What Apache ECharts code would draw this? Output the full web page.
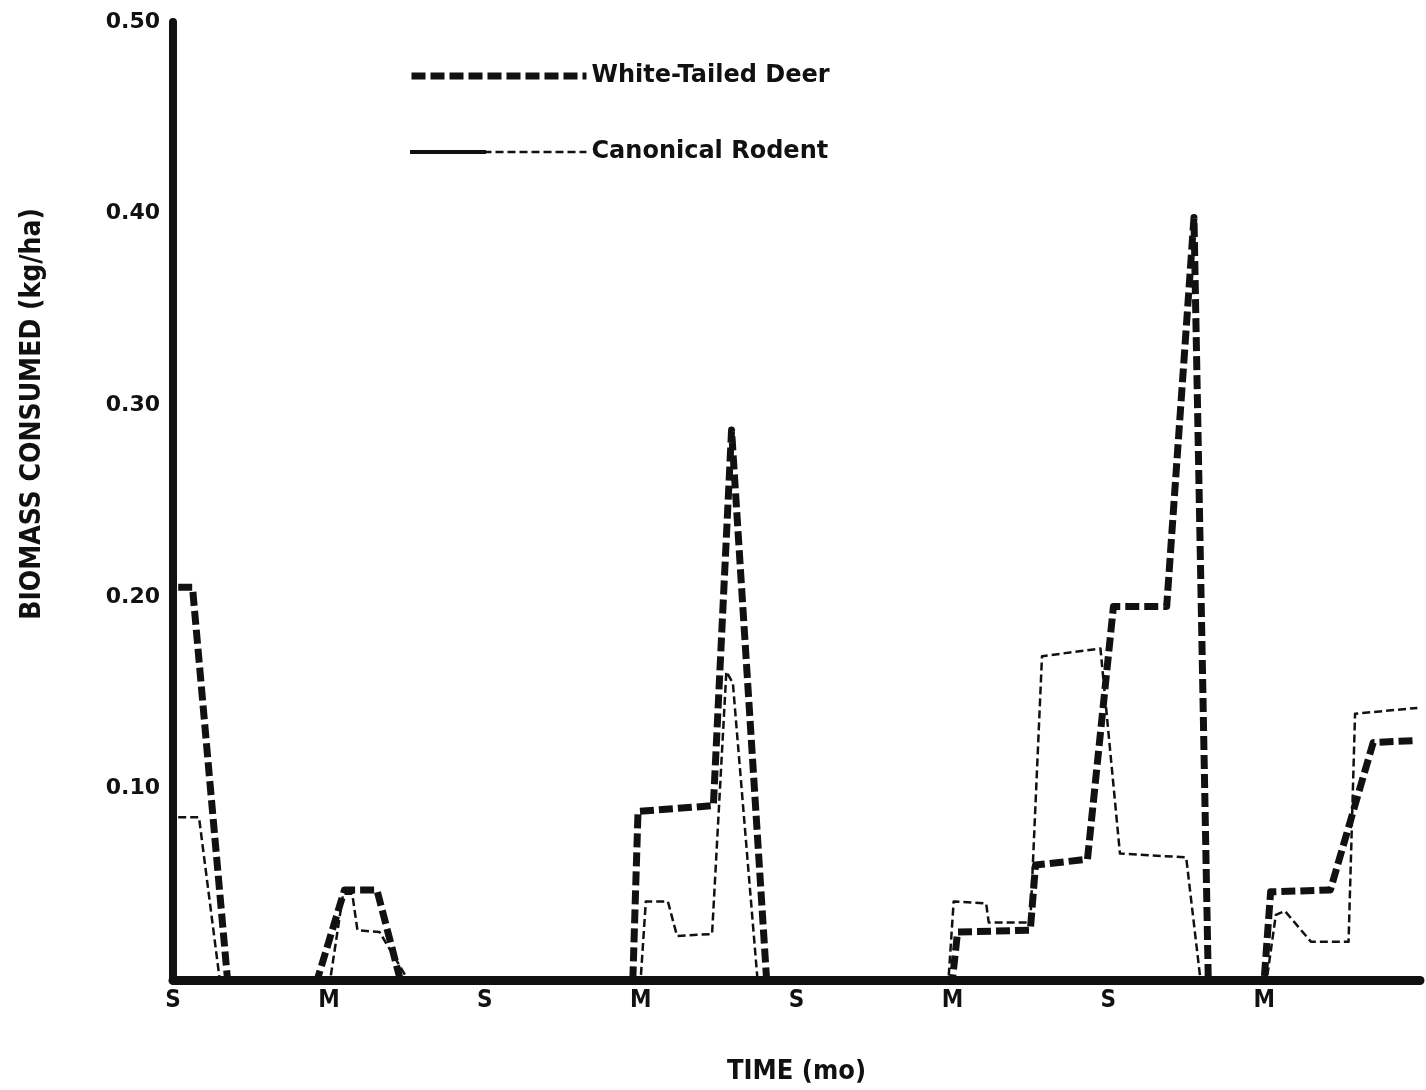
<!DOCTYPE html>
<html>
<head>
<meta charset="utf-8">
<script src="https://cdn.jsdelivr.net/npm/echarts@6/dist/echarts.min.js"></script>
<style>
html,body{margin:0;padding:0;background:#fff;}
#chart{width:1426px;height:1090px;}
</style>
</head>
<body>
<div id="chart"></div>
<script>
// ---- data (time in months from first September; biomass in kg/ha) ----
const xTickLabels = ['S', 'M', 'S', 'M', 'S', 'M', 'S', 'M', ''];
const yTickLabels = ['', '0.10', '0.20', '0.30', '0.40', '0.50'];

const deerMonths = [0.2, 0.75, 2.1, 5.55, 6.6, 7.85, 8.75, 17.7, 17.9, 20.8, 21.5, 22.85,
  30.0, 30.2, 33.0, 33.2, 35.2, 36.2, 38.25, 39.3, 39.85, 42.0, 42.25, 44.55, 46.2, 47.9];
const deerValues = [0.205, 0.205, 0, 0, 0.047, 0.047, 0, 0, 0.088, 0.091, 0.287, 0,
  0, 0.025, 0.026, 0.060, 0.063, 0.195, 0.195, 0.398, 0, 0, 0.046, 0.047, 0.124, 0.125];

const rodentMonths = [0.2, 1.0, 1.8, 6.05, 6.55, 6.9, 7.1, 7.95, 9.05, 18.0, 18.2, 19.05, 19.4,
  20.75, 21.3, 21.55, 22.5, 29.85, 30.05, 31.3, 31.4, 33.0, 33.45, 35.7, 36.45, 39.0, 39.55,
  42.1, 42.45, 42.8, 43.8, 45.25, 45.5, 47.9];
const rodentValues = [0.085, 0.085, 0, 0, 0.045, 0.045, 0.026, 0.025, 0, 0, 0.041, 0.041, 0.023,
  0.024, 0.161, 0.155, 0, 0, 0.041, 0.040, 0.030, 0.030, 0.169, 0.173, 0.066, 0.064, 0,
  0, 0.034, 0.036, 0.020, 0.020, 0.139, 0.142];

const seriesNames = ['White-Tailed Deer', 'Canonical Rodent'];

const deerData = deerMonths.map((m, i) => [m, deerValues[i]]);
const rodentData = rodentMonths.map((m, i) => [m, rodentValues[i]]);

const chart = echarts.init(document.getElementById('chart'), null, {renderer: 'canvas'});
const boldCond = '"DejaVu Sans Condensed", "Liberation Sans Narrow", "DejaVu Sans", sans-serif';
const boldWide = '"DejaVu Sans", Lato, sans-serif';

const deerLine = {color: '#111', width: 7, type: [14, 5], cap: 'butt', join: 'round'};
const rodentLine = {color: '#111', width: 2.5, type: [8, 4], join: 'round'};

chart.setOption({
  animation: false,
  backgroundColor: '#ffffff',
  color: ['#111', '#111'],
  grid: {left: 173, right: 6, top: 22, bottom: 110, containLabel: false},
  legend: {
    data: [
      {name: seriesNames[0], lineStyle: deerLine, itemStyle: {opacity: 0}},
      {name: seriesNames[1], lineStyle: rodentLine, itemStyle: {opacity: 0}}
    ],
    orient: 'vertical',
    left: 408,
    top: 63,
    padding: 0,
    itemWidth: 175,
    itemHeight: 14,
    itemGap: 50,
    textStyle: {fontFamily: boldWide, fontWeight: 'bold', fontSize: 24, color: '#111', lineHeight: 26}
  },
  xAxis: {
    type: 'value',
    min: 0,
    max: 48,
    interval: 6,
    name: 'TIME (mo)',
    nameLocation: 'middle',
    nameGap: 78,
    nameTextStyle: {fontFamily: boldCond, fontWeight: 'bold', fontSize: 27, color: '#111'},
    axisLine: {show: true, onZero: false, lineStyle: {color: '#111', width: 9}},
    axisTick: {show: false},
    splitLine: {show: false},
    axisLabel: {
      margin: 9,
      fontFamily: boldCond, fontWeight: 'bold', fontSize: 24, color: '#111',
      formatter: v => xTickLabels[Math.round(v / 6)] || ''
    }
  },
  yAxis: {
    type: 'value',
    min: 0,
    max: 0.5,
    interval: 0.1,
    axisLine: {show: true, lineStyle: {color: '#111', width: 8}},
    axisTick: {show: false},
    splitLine: {show: false},
    axisLabel: {
      margin: 13,
      fontFamily: boldWide, fontWeight: 'bold', fontSize: 22, color: '#111',
      formatter: v => yTickLabels[Math.round(v * 10)] || ''
    }
  },
  graphic: [{
    type: 'text',
    left: 19,
    top: 208,
    rotation: Math.PI / 2,
    originX: 0, originY: 0,
    style: {
      text: 'BIOMASS CONSUMED (kg/ha)',
      fontFamily: boldCond, fontWeight: 'bold', fontSize: 28, fill: '#111'
    }
  }, {
    type: 'line',
    shape: {x1: 410, y1: 152, x2: 486, y2: 152},
    style: {stroke: '#111', lineWidth: 4},
    z: 100
  }],
  series: [{
    name: seriesNames[0],
    type: 'line',
    data: deerData,
    symbol: 'none',
    showSymbol: false,
    z: 3,
    lineStyle: deerLine
  }, {
    name: seriesNames[1],
    type: 'line',
    data: rodentData,
    symbol: 'none',
    showSymbol: false,
    z: 4,
    lineStyle: rodentLine
  }]
});
</script>
</body>
</html>
